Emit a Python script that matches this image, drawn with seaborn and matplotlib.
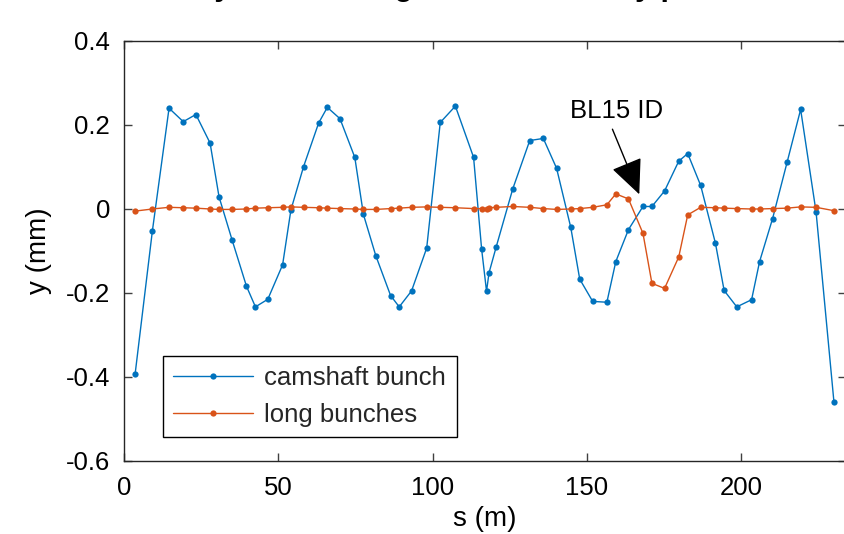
import numpy as np
import pandas as pd
import matplotlib
matplotlib.use("Agg")
import matplotlib.pyplot as plt
import seaborn as sns

# ---- data ----
s_pos = [3.6, 9.2, 14.6, 19.2, 23.3, 27.9, 30.8, 35.0, 39.7, 42.6, 46.6, 51.4, 54.1, 58.2,
         63.1, 65.9, 70.0, 74.8, 77.6, 81.6, 86.4, 89.2, 93.2, 98.1, 102.5, 107.4, 113.3,
         115.9, 117.5, 118.3, 120.6, 126.0, 131.5, 135.9, 140.2, 144.8, 147.7, 151.9, 156.5,
         159.4, 163.5, 168.2, 171.1, 175.2, 179.8, 182.7, 186.9, 191.7, 194.5, 198.6, 203.4,
         206.0, 210.2, 214.9, 219.3, 224.3, 230.1]
camshaft_y = [-0.393, -0.052, 0.240, 0.208, 0.225, 0.157, 0.029, -0.073, -0.184, -0.233,
              -0.215, -0.133, -0.002, 0.101, 0.205, 0.242, 0.215, 0.123, -0.013, -0.111,
              -0.206, -0.233, -0.195, -0.093, 0.206, 0.245, 0.123, -0.095, -0.196, -0.152,
              -0.091, 0.048, 0.163, 0.168, 0.097, -0.044, -0.167, -0.220, -0.222, -0.125,
              -0.049, 0.006, 0.006, 0.043, 0.114, 0.132, 0.056, -0.082, -0.194, -0.233,
              -0.216, -0.125, -0.023, 0.111, 0.237, -0.007, -0.460]
long_y = [-0.005, 0.000, 0.004, 0.003, 0.002, 0.000, -0.001, -0.001, 0.000, 0.002, 0.003,
          0.004, 0.005, 0.004, 0.003, 0.002, 0.001, 0.000, -0.001, -0.001, 0.001, 0.002,
          0.004, 0.005, 0.004, 0.003, 0.001, 0.001, 0.001, 0.003, 0.004, 0.006, 0.004,
          0.001, -0.001, 0.000, 0.001, 0.004, 0.010, 0.036, 0.024, -0.058, -0.177, -0.189,
          -0.114, -0.014, 0.004, 0.003, 0.002, 0.001, 0.000, 0.000, 0.001, 0.002, 0.005,
          0.004, -0.004]
series_names = ["camshaft bunch", "long bunches"]
series_colors = ["#0072BD", "#D95319"]
x_ticks = [0, 50, 100, 150, 200]
x_ticklabels = ["0", "50", "100", "150", "200"]
y_ticks = [-0.6, -0.4, -0.2, 0, 0.2, 0.4]
y_ticklabels = ["-0.6", "-0.4", "-0.2", "0", "0.2", "0.4"]
annot_text = "BL15 ID"
annot_tip = (167.0, 0.035)
annot_tail = (158.3, 0.190)
annot_textpos = (159.8, 0.233)
title_text = "Orbit y offset along the beamline by pattern"

df = pd.concat([
    pd.DataFrame({"s": s_pos, "y": camshaft_y, "series": series_names[0]}),
    pd.DataFrame({"s": s_pos, "y": long_y, "series": series_names[1]}),
])

sns.set_theme(style="white")
plt.rcParams["font.family"] = ["Liberation Sans", "DejaVu Sans"]
plt.rcParams["axes.unicode_minus"] = False

fig = plt.figure(figsize=(8.45, 5.34), dpi=100)
ax = fig.add_axes([124 / 845, 73 / 534, 722 / 845, 420 / 534])

for name, col in zip(series_names, series_colors):
    sub = df[df["series"] == name]
    sns.lineplot(data=sub, x="s", y="y", ax=ax, color=col, marker="o", markersize=4.5,
                 markeredgecolor=col, markeredgewidth=0, linewidth=1.0,
                 sort=False, estimator=None, label=name, legend=False)

ax.set_xlim(0, 234)
ax.set_ylim(-0.6, 0.4)
ax.set_xticks(x_ticks)
ax.set_xticklabels(x_ticklabels)
ax.set_yticks(y_ticks)
ax.set_yticklabels(y_ticklabels)
ax.tick_params(axis="both", which="both", direction="in", length=6, width=1,
               color="#404040", labelsize=18.5, labelcolor="black",
               top=True, right=True, bottom=True, left=True)
ax.tick_params(axis="x", pad=11)
ax.tick_params(axis="y", pad=10)
for sp in ax.spines.values():
    sp.set_color("#262626")
    sp.set_linewidth(1.0)
ax.set_xlabel("s (m)", fontsize=20, labelpad=4, color="black")
ax.set_ylabel("y (mm)", fontsize=20, labelpad=10, color="black")

handles = ax.get_lines()[:2]
leg = ax.legend(handles, series_names, loc="lower left", bbox_to_anchor=(0.054, 0.057),
                borderaxespad=0, fontsize=18.5, frameon=True, fancybox=False,
                edgecolor="black", framealpha=1, handlelength=3.1, handletextpad=0.45,
                labelspacing=0.5, borderpad=0.4, numpoints=1)
leg.get_frame().set_linewidth(1.0)

ax.text(annot_textpos[0], annot_textpos[1], annot_text, fontsize=18.5,
        ha="center", va="center", color="black")
ax.annotate("", xy=annot_tip, xytext=annot_tail,
            arrowprops=dict(arrowstyle="-|>,head_length=1.1,head_width=0.5",
                            color="black", lw=1, mutation_scale=20, shrinkA=0, shrinkB=0))

fig.text(0.531, 1.010, title_text, fontsize=22, fontweight="bold",
         ha="center", va="baseline", color="black")

fig.savefig("out.png", dpi=100)
